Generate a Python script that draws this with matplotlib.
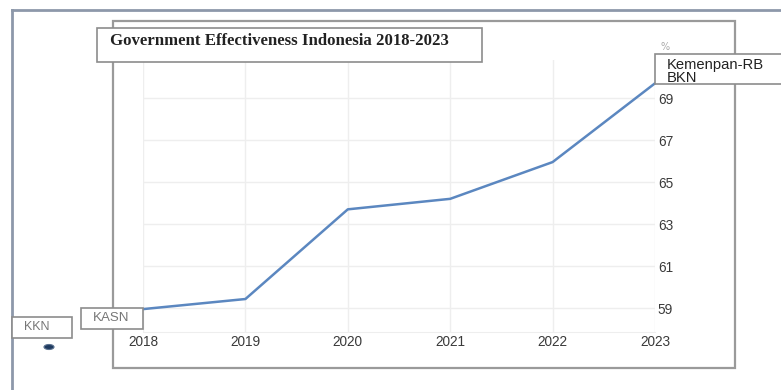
import matplotlib
matplotlib.use("Agg")
import matplotlib.pyplot as plt
from matplotlib.patches import Rectangle, Ellipse
from matplotlib.lines import Line2D
from matplotlib import font_manager

# Government effectiveness score (percent), yearly
years = [2018, 2019, 2020, 2021, 2022, 2023]
scores = [58.95, 59.43, 63.7, 64.2, 65.95, 69.7]
y_ticks = [59, 61, 63, 65, 67, 69]

title = "Government Effectiveness Indonesia 2018-2023"
end_label = "Kemenpan-RB\nBKN"
start_label = "KASN"
side_label = "KKN"
unit = "%"

W, H = 781, 390
fig = plt.figure(figsize=(W / 100, H / 100), dpi=100)
fig.patch.set_facecolor("white")

available = {f.name for f in font_manager.fontManager.ttflist}
narrow = next((n for n in ("Liberation Sans Narrow", "DejaVu Sans Condensed")
               if n in available), "Liberation Sans")
tick_size = 10.2 if narrow != "Liberation Sans" else 9.8


def fx(px):
    return px / W


def fy(py):
    return 1 - py / H


# --- main plot ---
ax = fig.add_axes([fx(143), fy(332), (655 - 143) / W, (332 - 60) / H])
ax.set_facecolor("white")
ax.plot(years, scores, color="#5b87c0", lw=1.8, solid_capstyle="round",
        clip_on=False, zorder=3)
ax.set_xlim(2018, 2023)
ax.set_ylim(57.86, 70.81)
ax.set_xticks(years)
ax.set_yticks(y_ticks)
ax.yaxis.tick_right()
ax.grid(True, color="#eeeeee", lw=1)
for side in ("top", "left", "right"):
    ax.spines[side].set_visible(False)
ax.spines["bottom"].set_color("#eeeeee")
ax.tick_params(length=0, labelsize=tick_size, labelcolor="#3a3a3a")
ax.tick_params(axis="x", pad=2.5)
ax.tick_params(axis="y", pad=2)
for lab in ax.get_xticklabels() + ax.get_yticklabels():
    lab.set_family(narrow)

# --- frames ---
frame_col = "#8d98aa"
fig.add_artist(Line2D([fx(12), fx(781)], [fy(10), fy(10)],
                      transform=fig.transFigure, color=frame_col, lw=2))
fig.add_artist(Line2D([fx(12), fx(12)], [fy(10), fy(390)],
                      transform=fig.transFigure, color=frame_col, lw=2))
fig.add_artist(Rectangle((fx(113), fy(368)), (735 - 113) / W, (368 - 21) / H,
                         transform=fig.transFigure, fill=False,
                         ec="#9a9a9a", lw=1.6))

# --- title box ---
fig.add_artist(Rectangle((fx(97), fy(62)), (482 - 97) / W, (62 - 28) / H,
                         transform=fig.transFigure, fc="white",
                         ec="#8c8c8c", lw=1.2, zorder=5))
fig.text(fx(110), fy(41), title, family="Liberation Serif", weight="bold",
         fontsize=12.1, color="#222222", va="center", ha="left", zorder=6)

# --- unit ---
fig.text(fx(665), fy(47), unit, fontsize=7, color="#aaaaaa",
         ha="center", va="center")


def to_px(x, y):
    dx, dy = ax.transData.transform((x, y))
    return dx, H - dy


# label box at the last point
ex, ey = to_px(years[-1], scores[-1])
fig.add_artist(Rectangle((fx(ex), fy(ey + 1)), (790 - ex) / W, 30 / H,
                         transform=fig.transFigure, fc="white",
                         ec="#8c8c8c", lw=1.2, zorder=5))
fig.text(fx(ex + 12), fy(ey - 25), end_label, fontsize=10.6, color="#222222",
         family="Liberation Sans", ha="left", va="top", linespacing=0.9,
         zorder=6)

# label box at the first point
sx, sy = to_px(years[0], scores[0])
fig.add_artist(Rectangle((fx(81), fy(sy + 20)), (sx - 81) / W, 21 / H,
                         transform=fig.transFigure, fc="white",
                         ec="#8c8c8c", lw=1.2, zorder=5))
fig.text(fx(93), fy(sy + 9), start_label, fontsize=9.6, color="#777777",
         family="Liberation Sans", ha="left", va="center", zorder=6)

# side label and marker
fig.add_artist(Rectangle((fx(12), fy(338)), 60 / W, 21 / H,
                         transform=fig.transFigure, fc="white",
                         ec="#8c8c8c", lw=1.2, zorder=5))
fig.text(fx(24), fy(327), side_label, fontsize=9, color="#777777",
         family="Liberation Sans", ha="left", va="center", zorder=6)
fig.add_artist(Ellipse((fx(49), fy(347)), 10 / W, 5 / H,
                       transform=fig.transFigure, fc="#1f3a5f",
                       ec="#5b7290", lw=0.8, zorder=5))

fig.savefig("out.png", dpi=100, facecolor="white")
